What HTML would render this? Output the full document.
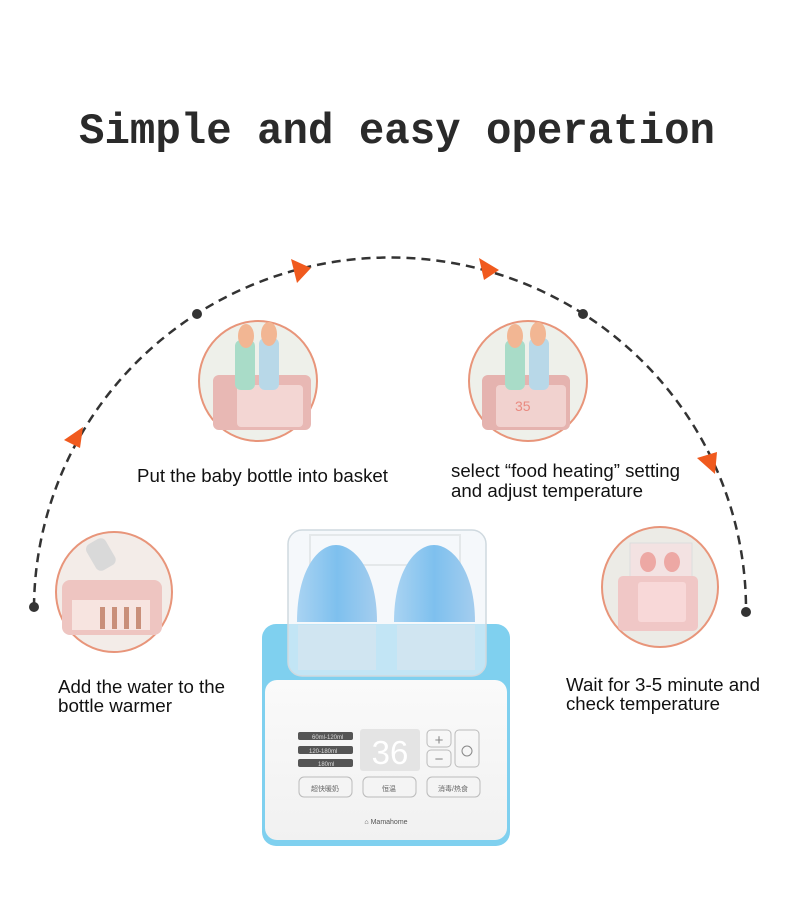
<!DOCTYPE html>
<html><head><meta charset="utf-8"><style>
body{margin:0;background:#fff;width:790px;height:918px;overflow:hidden}
text{font-family:"Liberation Sans","Noto Sans CJK SC",sans-serif}
</style></head><body>
<svg width="790" height="918" viewBox="0 0 790 918" xmlns="http://www.w3.org/2000/svg">
<defs>
<linearGradient id="bot" x1="0" y1="0" x2="1" y2="0"><stop offset="0" stop-color="#a9d3f2"/><stop offset=".5" stop-color="#7ec0ee"/><stop offset="1" stop-color="#a4cdee"/></linearGradient>
<linearGradient id="pnl" x1="0" y1="0" x2="0" y2="1"><stop offset="0" stop-color="#fafafa"/><stop offset="1" stop-color="#f1f1f1"/></linearGradient>
</defs>
<text x="397" y="143" text-anchor="middle" font-weight="bold" font-size="44" fill="#2a2a2a" textLength="636" lengthAdjust="spacingAndGlyphs" style="font-family:'Liberation Mono',monospace">Simple and easy operation</text>
<!-- arc -->
<path d="M34 607 A356 352 0 0 1 746 612" fill="none" stroke="#333" stroke-width="2.5" stroke-dasharray="9 6"/>
<circle cx="34" cy="607" r="5" fill="#333"/><circle cx="746" cy="612" r="5" fill="#333"/>
<circle cx="197" cy="314" r="5" fill="#333"/><circle cx="583" cy="314" r="5" fill="#333"/>
<polygon points="291,259 311,268 297,283" fill="#f05a1e"/>
<polygon points="479,258 499,270 484,280" fill="#f05a1e"/>
<polygon points="64,440 83,427 80,448" fill="#f05a1e"/>
<polygon points="697,458 717,452 715,474" fill="#f05a1e"/>
<!-- circles -->
<g stroke="#e8957a" stroke-width="2">
<ellipse cx="258" cy="381" rx="59" ry="60" fill="#eef0ea"/>
<ellipse cx="528" cy="381" rx="59" ry="60" fill="#eef0ea"/>
<ellipse cx="114" cy="592" rx="58" ry="60" fill="#f3ece8"/>
<ellipse cx="660" cy="587" rx="58" ry="60" fill="#ecebe6"/>
</g>
<!-- pic1 -->
<rect x="213" y="375" width="98" height="55" rx="6" fill="#e8b8b4"/><rect x="237" y="385" width="66" height="42" rx="4" fill="#f3d6d3"/>
<rect x="235" y="340" width="20" height="50" rx="6" fill="#a9dcc8"/><rect x="259" y="338" width="20" height="52" rx="6" fill="#b8d8e8"/>
<ellipse cx="246" cy="336" rx="8" ry="12" fill="#f2b693"/><ellipse cx="269" cy="334" rx="8" ry="12" fill="#f2b693"/>
<!-- pic2 -->
<rect x="482" y="375" width="88" height="55" rx="6" fill="#e5b3af"/><rect x="496" y="385" width="70" height="42" rx="4" fill="#f1d2cf"/>
<text x="515" y="411" font-size="14" fill="#e98a80">35</text>
<rect x="505" y="340" width="20" height="50" rx="6" fill="#a9dcc8"/><rect x="529" y="338" width="20" height="52" rx="6" fill="#b8d8e8"/>
<ellipse cx="515" cy="336" rx="8" ry="12" fill="#f2b693"/><ellipse cx="538" cy="334" rx="8" ry="12" fill="#f2b693"/>
<!-- pic3 -->
<rect x="62" y="580" width="100" height="55" rx="8" fill="#eec5c1"/>
<rect x="72" y="600" width="78" height="30" fill="#f7e4e0"/>
<rect x="100" y="607" width="5" height="22" fill="#c98f7a"/><rect x="112" y="607" width="5" height="22" fill="#c98f7a"/><rect x="124" y="607" width="5" height="22" fill="#c98f7a"/><rect x="136" y="607" width="5" height="22" fill="#c98f7a"/>
<rect x="90" y="540" width="22" height="30" rx="6" fill="#d9d9d9" transform="rotate(-30 100 555)"/>
<!-- pic4 -->
<rect x="630" y="543" width="62" height="35" fill="#f3e2e2" stroke="#ddd"/>
<ellipse cx="648" cy="562" rx="8" ry="10" fill="#eda8a4"/><ellipse cx="672" cy="562" rx="8" ry="10" fill="#eda8a4"/>
<rect x="618" y="576" width="80" height="55" rx="5" fill="#f0c7c6"/><rect x="638" y="582" width="48" height="40" rx="3" fill="#f8d8d8"/>
<!-- labels -->
<g font-size="18" fill="#111">
<text x="137" y="482" textLength="251" lengthAdjust="spacingAndGlyphs">Put the baby bottle into basket</text>
<text x="451" y="477" textLength="229" lengthAdjust="spacingAndGlyphs">select “food heating” setting</text>
<text x="451" y="497" textLength="192" lengthAdjust="spacingAndGlyphs">and adjust temperature</text>
<text x="58" y="693" textLength="167" lengthAdjust="spacingAndGlyphs">Add the water to the</text>
<text x="58" y="712" textLength="114" lengthAdjust="spacingAndGlyphs">bottle warmer</text>
<text x="566" y="691" textLength="194" lengthAdjust="spacingAndGlyphs">Wait for 3-5 minute and</text>
<text x="566" y="710" textLength="154" lengthAdjust="spacingAndGlyphs">check temperature</text>
</g>
<!-- device -->
<rect x="262" y="624" width="248" height="222" rx="14" fill="#7fd0ef"/>
<rect x="265" y="680" width="242" height="160" rx="12" fill="url(#pnl)"/>
<rect x="288" y="530" width="198" height="146" rx="14" fill="#eef4f8" fill-opacity=".6" stroke="#cfd9df" stroke-width="1.5"/>
<rect x="310" y="535" width="150" height="30" fill="none" stroke="#e4e8ea" stroke-width="2"/>
<rect x="298" y="625" width="78" height="45" fill="#d5e6f0" opacity=".7"/><rect x="397" y="625" width="78" height="45" fill="#d5e6f0" opacity=".7"/>
<path d="M297 622 C297 570 318 545 336 545 C354 545 377 570 377 622 Z" fill="url(#bot)"/>
<path d="M394 622 C394 570 416 545 434 545 C452 545 475 570 475 622 Z" fill="url(#bot)"/>
<!-- controls -->
<g font-size="6" fill="#ddd">
<rect x="298" y="732" width="55" height="8" rx="2" fill="#555"/><text x="312" y="739">60ml-120ml</text>
<rect x="298" y="746" width="55" height="8" rx="2" fill="#555"/><text x="309" y="753">120-180ml</text>
<rect x="298" y="759" width="55" height="8" rx="2" fill="#555"/><text x="318" y="766">180ml</text>
</g>
<rect x="360" y="729" width="60" height="42" rx="3" fill="#e4e4e4"/>
<text x="390" y="764" text-anchor="middle" font-size="33" fill="#fff">36</text>
<rect x="427" y="730" width="24" height="17" rx="4" fill="none" stroke="#bbb"/><text x="439" y="745" text-anchor="middle" font-size="15" fill="#888">+</text>
<rect x="427" y="750" width="24" height="17" rx="4" fill="none" stroke="#bbb"/><text x="439" y="764" text-anchor="middle" font-size="15" fill="#888">−</text>
<rect x="455" y="730" width="24" height="37" rx="4" fill="none" stroke="#bbb"/><circle cx="467" cy="751" r="5" fill="none" stroke="#888"/>
<rect x="299" y="777" width="53" height="20" rx="5" fill="none" stroke="#bbb"/><text x="325" y="791" text-anchor="middle" font-size="7" fill="#666">超快暖奶</text>
<rect x="363" y="777" width="53" height="20" rx="5" fill="none" stroke="#bbb"/><text x="389" y="791" text-anchor="middle" font-size="7" fill="#666">恒温</text>
<rect x="427" y="777" width="53" height="20" rx="5" fill="none" stroke="#bbb"/><text x="453" y="791" text-anchor="middle" font-size="7" fill="#666">消毒/热食</text>
<text x="386" y="824" text-anchor="middle" font-size="7" fill="#555">⌂ Mamahome</text>
</svg>
</body></html>
